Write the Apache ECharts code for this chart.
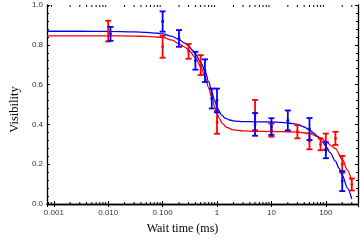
<!DOCTYPE html>
<html><head><meta charset="utf-8">
<script src="https://cdn.jsdelivr.net/npm/echarts@6/dist/echarts.min.js"></script>
<style>html,body{margin:0;padding:0;background:#fff}#c{width:361px;height:240px}</style>
</head><body><div id="c"></div>
<script>
// ---- data ----
const xLabelMap = {'-3':'0.001','-2':'0.010','-1':'0.100','0':'1','1':'10','2':'100'};
const yTickLabels = ['0.0','0.2','0.4','0.6','0.8','1.0'];
const xMinorTicks = [0.0008,0.0009,0.002,0.003,0.004,0.005,0.006,0.007,0.008,0.009,
  0.02,0.03,0.04,0.05,0.06,0.07,0.08,0.09,0.2,0.3,0.4,0.5,0.6,0.7,0.8,0.9,
  2,3,4,5,6,7,8,9,20,30,40,50,60,70,80,90,200,300];

// blue measurements: [time ms, visibility, error]
const blueX   = [0.011, 0.1, 0.2, 0.4, 0.6, 0.8, 1.0, 5, 10, 20, 50, 100, 200];
const blueY   = [0.855, 0.917, 0.832, 0.72, 0.67, 0.53, 0.52, 0.40, 0.389, 0.42, 0.377, 0.27, 0.115];
const blueErr = [0.035, 0.051, 0.042, 0.045, 0.057, 0.05, 0.06, 0.057, 0.042, 0.05, 0.055, 0.04, 0.05];

// red measurements
const redX   = [0.01, 0.1, 0.3, 0.5, 1.0, 5, 10, 30, 50, 80, 100, 150, 200, 300];
const redY   = [0.869, 0.79, 0.767, 0.698, 0.41, 0.447, 0.371, 0.363, 0.315, 0.30, 0.314, 0.33, 0.20, 0.098];
const redErr = [0.052, 0.055, 0.037, 0.05, 0.057, 0.076, 0.033, 0.033, 0.04, 0.03, 0.04, 0.033, 0.042, 0.03];

// fitted curves
const blueFitX = [0.00075, 0.003, 0.01, 0.03, 0.05, 0.08, 0.1, 0.15, 0.2, 0.25, 0.3, 0.35, 0.4, 0.5, 0.6, 0.7, 0.8, 0.9, 1.0, 1.1, 1.2, 1.4, 1.7, 2.2, 3, 5, 10, 15, 20, 30, 40, 50, 60, 70, 85, 100, 120, 150, 175, 200, 250, 300];
const blueFitY = [0.868, 0.868, 0.867, 0.865, 0.862, 0.858, 0.855, 0.842, 0.827, 0.81, 0.795, 0.775, 0.755, 0.712, 0.67, 0.615, 0.565, 0.52, 0.488, 0.465, 0.448, 0.432, 0.422, 0.416, 0.414, 0.413, 0.412, 0.41, 0.407, 0.40, 0.387, 0.372, 0.356, 0.34, 0.315, 0.29, 0.258, 0.215, 0.18, 0.145, 0.08, 0.025];
const redFitX = [0.00075, 0.01, 0.03, 0.05, 0.1, 0.15, 0.2, 0.25, 0.3, 0.4, 0.5, 0.6, 0.7, 0.8, 0.9, 1.0, 1.1, 1.25, 1.5, 2, 3, 5, 10, 20, 30, 50, 70, 100, 130, 150, 200, 250, 300];
const redFitY = [0.845, 0.845, 0.844, 0.842, 0.837, 0.823, 0.805, 0.79, 0.775, 0.735, 0.69, 0.64, 0.585, 0.535, 0.49, 0.455, 0.43, 0.405, 0.385, 0.372, 0.367, 0.365, 0.364, 0.363, 0.361, 0.355, 0.34, 0.315, 0.29, 0.278, 0.225, 0.17, 0.11];

const BLUE = '#0000ff', RED = '#ff0000';
const X_MIN = 0.00075, X_MAX = 390;

function zip(a, b, c) { return a.map((v, i) => c ? [v, b[i], c[i]] : [v, b[i]]); }

function errRender(color) {
  return function (params, api) {
    const x = api.value(0), y = api.value(1), e = api.value(2);
    const top = api.coord([x, y + e]), bot = api.coord([x, y - e]), mid = api.coord([x, y]);
    const cw = 3;
    const st = { stroke: color, lineWidth: 1.8 };
    return { type: 'group', children: [
      { type: 'line', shape: { x1: top[0], y1: top[1], x2: bot[0], y2: bot[1] }, style: st },
      { type: 'line', shape: { x1: top[0] - cw, y1: top[1], x2: top[0] + cw, y2: top[1] }, style: st },
      { type: 'line', shape: { x1: bot[0] - cw, y1: bot[1], x2: bot[0] + cw, y2: bot[1] }, style: st },
      { type: 'circle', shape: { cx: mid[0], cy: mid[1], r: 1.4 }, style: { fill: color } }
    ]};
  };
}

const axisLineStyle = { color: '#000', width: 1.3 };
const chart = echarts.init(document.getElementById('c'), null, { renderer: 'canvas' });
chart.setOption({
  animation: false,
  grid: { left: 31, right: 1, top: 5, bottom: 31, containLabel: false },
  xAxis: [{
    type: 'log', logBase: 10, min: X_MIN, max: X_MAX, position: 'bottom',
    name: 'Wait time (ms)', nameLocation: 'middle', nameGap: 19,
    nameTextStyle: { fontFamily: 'Liberation Serif', fontSize: 12, color: '#000', padding: [0, 40, 0, 0] },
    axisLine: { show: true, lineStyle: axisLineStyle },
    axisTick: { show: true, inside: true, length: 3, lineStyle: { color: '#000', width: 1 } },
    minorTick: { show: false },
    splitLine: { show: false },
    axisLabel: {
      margin: 5, fontFamily: 'Liberation Sans', fontSize: 8, color: '#333',
      showMinLabel: true, showMaxLabel: true,
      formatter: function (v) {
        const l = Math.log10(v); const r = Math.round(l);
        if (Math.abs(l - r) > 1e-6) return '';
        return xLabelMap[String(r)] || '';
      }
    }
  }, {
    type: 'log', logBase: 10, min: X_MIN, max: X_MAX, position: 'top',
    axisLine: { show: true, lineStyle: axisLineStyle },
    axisTick: { show: true, inside: true, length: 3, lineStyle: { color: '#000', width: 1 } },
    axisLabel: { show: false }, splitLine: { show: false }
  }],
  yAxis: [{
    type: 'value', min: 0, max: 1, interval: 0.2, position: 'left',
    name: 'Visibility', nameLocation: 'middle', nameGap: 16, nameRotate: 90,
    nameTextStyle: { fontFamily: 'Liberation Serif', fontSize: 12.5, color: '#000', padding: [0, 10, 0, 0] },
    axisLine: { show: true, lineStyle: axisLineStyle },
    axisTick: { show: true, inside: true, length: 3, lineStyle: { color: '#000', width: 1 } },
    minorTick: { show: true, splitNumber: 5, length: 2, lineStyle: { color: '#000', width: 1 } },
    splitLine: { show: false },
    axisLabel: { margin: 4, fontFamily: 'Liberation Sans', fontSize: 8, color: '#333',
      formatter: function (v) { return yTickLabels[Math.round(v * 5)]; } }
  }, {
    type: 'value', min: 0, max: 1, interval: 0.2, position: 'right',
    axisLine: { show: true, lineStyle: axisLineStyle },
    axisTick: { show: true, inside: true, length: 3, lineStyle: { color: '#000', width: 1 } },
    minorTick: { show: true, splitNumber: 5, length: 2, lineStyle: { color: '#000', width: 1 } },
    splitLine: { show: false }, axisLabel: { show: false }
  }],
  series: [
    { type: 'custom', name: 'minorX', silent: true, clip: false,
      data: xMinorTicks.map(v => [v, 0]),
      renderItem: function (params, api) {
        const b = api.coord([api.value(0), 0]), t = api.coord([api.value(0), 1]);
        const st = { stroke: '#000', lineWidth: 1 };
        return { type: 'group', children: [
          { type: 'line', shape: { x1: b[0], y1: b[1], x2: b[0], y2: b[1] - 2 }, style: st },
          { type: 'line', shape: { x1: t[0], y1: t[1], x2: t[0], y2: t[1] + 2 }, style: st }
        ]};
      } },
    { type: 'line', name: 'redFit', data: zip(redFitX, redFitY), showSymbol: false, smooth: 0.3, smoothMonotone: 'x',
      lineStyle: { color: RED, width: 1.3 }, z: 2 },
    { type: 'line', name: 'blueFit', data: zip(blueFitX, blueFitY), showSymbol: false, smooth: 0.3, smoothMonotone: 'x',
      lineStyle: { color: BLUE, width: 1.3 }, z: 2 },
    { type: 'custom', name: 'redErr', data: zip(redX, redY, redErr), renderItem: errRender(RED), z: 3 },
    { type: 'custom', name: 'blueErr', data: zip(blueX, blueY, blueErr), renderItem: errRender(BLUE), z: 3 }
  ]
});
</script></body></html>
